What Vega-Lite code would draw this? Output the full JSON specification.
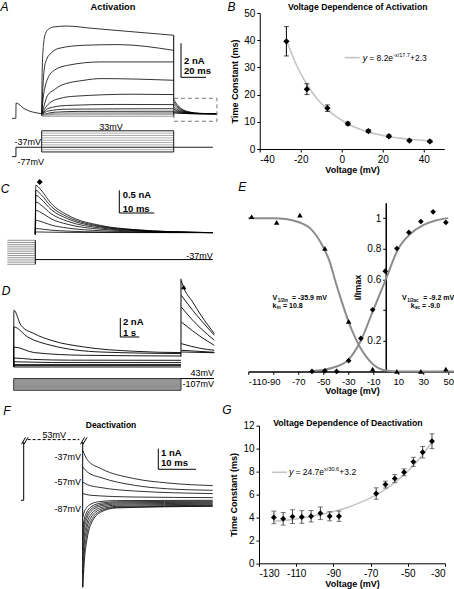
{
"$schema":"https://vega.github.io/schema/vega-lite/v6.json",
"padding":0,
"background":"white",
"config":{"view":{"stroke":null},"font":"Liberation Sans","mark":{"color":"black"},
"axis":{"labelFont":"Liberation Sans","titleFont":"Liberation Sans","labelFontSize":10,"titleFontSize":9,"titleFontWeight":"bold","labelColor":"black","titleColor":"black","domainColor":"black","tickColor":"black","tickSize":3,"grid":false,"labelPadding":2,"labelOverlap":false,"tickCount":20},
"axisX":{"titlePadding":1},
"text":{"font":"Liberation Sans","color":"black"}},
"datasets":{
"aTr":[
{"id":0,"x":-23.8,"y":-0.18},{"id":0,"x":-20.7,"y":-0.18},{"id":0,"x":-20.5,"y":0.72},{"id":0,"x":-18.2,"y":0.65},{"id":0,"x":-15,"y":0.44},{"id":0,"x":-10.2,"y":0.26},{"id":0,"x":-4.6,"y":0.15},{"id":0,"x":0,"y":0.09},
{"id":1,"x":0,"y":0},{"id":1,"x":0.4,"y":2.6},{"id":1,"x":1.5,"y":4.2},{"id":1,"x":3,"y":4.8},{"id":1,"x":6,"y":5.1},{"id":1,"x":10,"y":5.2},{"id":1,"x":20,"y":5.25},{"id":1,"x":40,"y":5.12},{"id":1,"x":70,"y":4.93},{"id":1,"x":105.6,"y":4.71},
{"id":2,"x":0,"y":0},{"id":2,"x":0.8,"y":1.4},{"id":2,"x":2.1,"y":2.76},{"id":2,"x":4,"y":3.3},{"id":2,"x":7.4,"y":3.65},{"id":2,"x":13.8,"y":3.94},{"id":2,"x":33.8,"y":4.12},{"id":2,"x":61,"y":4.16},{"id":2,"x":105.6,"y":3.82},
{"id":3,"x":0,"y":0},{"id":3,"x":1,"y":0.9},{"id":3,"x":2.5,"y":1.6},{"id":3,"x":4.8,"y":2.16},{"id":3,"x":10.1,"y":2.65},{"id":3,"x":20.8,"y":2.94},{"id":3,"x":47.4,"y":3.14},{"id":3,"x":105.6,"y":3.14},
{"id":4,"x":0,"y":0},{"id":4,"x":2,"y":0.6},{"id":4,"x":4.8,"y":1.18},{"id":4,"x":10,"y":1.5},{"id":4,"x":15.4,"y":1.76},{"id":4,"x":33.8,"y":2.06},{"id":4,"x":47.4,"y":2.16},{"id":4,"x":105.6,"y":2.06},
{"id":5,"x":0,"y":0},{"id":5,"x":3,"y":0.45},{"id":5,"x":7.4,"y":0.78},{"id":5,"x":15,"y":1.0},{"id":5,"x":25.8,"y":1.12},{"id":5,"x":73.8,"y":1.24},{"id":5,"x":105.6,"y":1.22},
{"id":6,"x":0,"y":0},{"id":6,"x":5,"y":0.4},{"id":6,"x":20,"y":0.58},{"id":6,"x":60,"y":0.64},{"id":6,"x":105.6,"y":0.63},
{"id":7,"x":0,"y":0},{"id":7,"x":5,"y":0.25},{"id":7,"x":20,"y":0.36},{"id":7,"x":105.6,"y":0.39},
{"id":8,"x":0,"y":0},{"id":8,"x":10,"y":0.18},{"id":8,"x":30,"y":0.23},{"id":8,"x":105.6,"y":0.24},
{"id":9,"x":0,"y":0},{"id":9,"x":15,"y":0.14},{"id":9,"x":105.6,"y":0.16},
{"id":10,"x":0,"y":0},{"id":10,"x":20,"y":0.09},{"id":10,"x":105.6,"y":0.1},
{"id":11,"x":0,"y":0.02},{"id":11,"x":105.6,"y":0.04},
{"id":12,"x":0,"y":-0.06},{"id":12,"x":105.6,"y":-0.06},
{"id":101,"x":105.6,"y":0.94},{"id":101,"x":108,"y":0.66},{"id":101,"x":112,"y":0.38},{"id":101,"x":118,"y":0.2},{"id":101,"x":126,"y":0.12},{"id":101,"x":140.2,"y":0.09},
{"id":102,"x":105.6,"y":0.8},{"id":102,"x":108,"y":0.57},{"id":102,"x":112,"y":0.33},{"id":102,"x":118,"y":0.18},{"id":102,"x":126,"y":0.11},{"id":102,"x":140.2,"y":0.09},
{"id":103,"x":105.6,"y":0.65},{"id":103,"x":108,"y":0.47},{"id":103,"x":112,"y":0.28},{"id":103,"x":118,"y":0.16},{"id":103,"x":126,"y":0.11},{"id":103,"x":140.2,"y":0.09},
{"id":104,"x":105.6,"y":0.5},{"id":104,"x":108,"y":0.36},{"id":104,"x":112,"y":0.23},{"id":104,"x":118,"y":0.14},{"id":104,"x":126,"y":0.1},{"id":104,"x":140.2,"y":0.09},
{"id":105,"x":105.6,"y":0.38},{"id":105,"x":108,"y":0.28},{"id":105,"x":112,"y":0.19},{"id":105,"x":118,"y":0.13},{"id":105,"x":126,"y":0.1},{"id":105,"x":140.2,"y":0.09},
{"id":106,"x":105.6,"y":0.28},{"id":106,"x":108,"y":0.22},{"id":106,"x":112,"y":0.16},{"id":106,"x":118,"y":0.11},{"id":106,"x":126,"y":0.1},{"id":106,"x":140.2,"y":0.09},
{"id":107,"x":105.6,"y":0.2},{"id":107,"x":108,"y":0.16},{"id":107,"x":112,"y":0.13},{"id":107,"x":118,"y":0.1},{"id":107,"x":126,"y":0.09},{"id":107,"x":140.2,"y":0.09},
{"id":108,"x":105.6,"y":0.14},{"id":108,"x":108,"y":0.12},{"id":108,"x":112,"y":0.11},{"id":108,"x":118,"y":0.1},{"id":108,"x":126,"y":0.09},{"id":108,"x":140.2,"y":0.09}],
"aSeg":[{"x":111.44,"y":2.235,"x2":111.44,"y2":4.235},{"x":111.44,"y":2.235,"x2":131.44,"y2":2.235},{"x":105.6,"y":4.71,"x2":105.6,"y2":-0.06}],
"aBox":[{"x":105.8,"x2":140.2,"y":1.0,"y2":-0.35}],
"aTxt":[{"x":-29.76,"y":6.38,"txt":"A","k":"L"},{"x":57.04,"y":6.38,"txt":"Activation","k":"T"},{"x":113.84,"y":3.2,"txt":"2 nA","k":"S"},{"x":113.84,"y":2.58,"txt":"20 ms","k":"S"}],
"apSeg":[{"x":0,"y":33,"x2":105.6,"y2":33,"k":"o"},{"x":0,"y":-57,"x2":105.6,"y2":-57,"k":"o"},{"x":0,"y":-57,"x2":0,"y2":33,"k":"o"},{"x":105.6,"y":-57,"x2":105.6,"y2":33,"k":"o"},
{"x":-20.6,"y":-37,"x2":137,"y2":-37,"k":"o"},{"x":-23.8,"y":-77,"x2":-20.6,"y2":-77,"k":"o"},{"x":-20.6,"y":-77,"x2":-20.6,"y2":-37,"k":"o"},
{"x":0,"y":23,"x2":105.6,"y2":23,"k":"i"},{"x":0,"y":13,"x2":105.6,"y2":13,"k":"i"},{"x":0,"y":3,"x2":105.6,"y2":3,"k":"i"},{"x":0,"y":-7,"x2":105.6,"y2":-7,"k":"i"},{"x":0,"y":-17,"x2":105.6,"y2":-17,"k":"i"},{"x":0,"y":-27,"x2":105.6,"y2":-27,"k":"i"},{"x":0,"y":-47,"x2":105.6,"y2":-47,"k":"i"}],
"apTxt":[{"x":55.4,"y":49.2,"txt":"33mV","a":"c"},{"x":-0.56,"y":-14.7,"txt":"-37mV","a":"r"},{"x":-19.4,"y":-99.8,"txt":"-77mV","a":"l"}],
"cTr":[
{"id":1,"x":0,"y":0},{"id":1,"x":0.14,"y":1.079},{"id":1,"x":1.63,"y":0.975},{"id":1,"x":4.49,"y":0.683},{"id":1,"x":9.26,"y":0.423},{"id":1,"x":18.77,"y":0.193},{"id":1,"x":28.2,"y":0.105},{"id":1,"x":38.8,"y":0.058},{"id":1,"x":50.7,"y":0.037},
{"id":2,"x":0,"y":0},{"id":2,"x":0.14,"y":0.969},{"id":2,"x":1.63,"y":0.876},{"id":2,"x":4.49,"y":0.615},{"id":2,"x":9.26,"y":0.382},{"id":2,"x":18.77,"y":0.177},{"id":2,"x":28.2,"y":0.098},{"id":2,"x":38.8,"y":0.056},{"id":2,"x":50.7,"y":0.037},
{"id":3,"x":0,"y":0},{"id":3,"x":0.14,"y":0.859},{"id":3,"x":1.63,"y":0.777},{"id":3,"x":4.49,"y":0.547},{"id":3,"x":9.26,"y":0.341},{"id":3,"x":18.77,"y":0.16},{"id":3,"x":28.2,"y":0.09},{"id":3,"x":38.8,"y":0.053},{"id":3,"x":50.7,"y":0.037},
{"id":4,"x":0,"y":0},{"id":4,"x":0.14,"y":0.711},{"id":4,"x":1.63,"y":0.644},{"id":4,"x":4.49,"y":0.455},{"id":4,"x":9.26,"y":0.286},{"id":4,"x":18.77,"y":0.138},{"id":4,"x":28.2,"y":0.081},{"id":4,"x":38.8,"y":0.05},{"id":4,"x":50.7,"y":0.037},
{"id":5,"x":0,"y":0},{"id":5,"x":0.14,"y":0.529},{"id":5,"x":1.63,"y":0.48},{"id":5,"x":4.49,"y":0.342},{"id":5,"x":9.26,"y":0.219},{"id":5,"x":18.77,"y":0.111},{"id":5,"x":28.2,"y":0.069},{"id":5,"x":38.8,"y":0.047},{"id":5,"x":50.7,"y":0.037},
{"id":6,"x":0,"y":0},{"id":6,"x":0.14,"y":0.308},{"id":6,"x":1.63,"y":0.281},{"id":6,"x":4.49,"y":0.205},{"id":6,"x":9.26,"y":0.137},{"id":6,"x":18.77,"y":0.078},{"id":6,"x":28.2,"y":0.055},{"id":6,"x":38.8,"y":0.042},{"id":6,"x":50.7,"y":0.037},
{"id":7,"x":0,"y":0},{"id":7,"x":0.14,"y":0.126},{"id":7,"x":1.63,"y":0.117},{"id":7,"x":4.49,"y":0.092},{"id":7,"x":9.26,"y":0.07},{"id":7,"x":18.77,"y":0.05},{"id":7,"x":28.2,"y":0.043},{"id":7,"x":38.8,"y":0.039},{"id":7,"x":50.7,"y":0.037},
{"id":8,"x":0,"y":0},{"id":8,"x":0.14,"y":0.051},{"id":8,"x":1.63,"y":0.05},{"id":8,"x":4.49,"y":0.046},{"id":8,"x":9.26,"y":0.042},{"id":8,"x":18.77,"y":0.039},{"id":8,"x":28.2,"y":0.038},{"id":8,"x":38.8,"y":0.037},{"id":8,"x":50.7,"y":0.037}],
"cSeg":[{"x":24.0,"y":0.969,"x2":24.0,"y2":0.469,"k":"b"},{"x":24.0,"y":0.469,"x2":34.0,"y2":0.469,"k":"b"},{"x":0,"y":-0.557,"x2":50.7,"y2":-0.557,"k":"b"},{"x":0,"y":-0.132,"x2":0,"y2":-0.661,"k":"b"},
{"x":-8.0,"y":-0.132,"x2":0,"y2":-0.132,"k":"g"},{"x":-8.0,"y":-0.18,"x2":0,"y2":-0.18,"k":"g"},{"x":-8.0,"y":-0.228,"x2":0,"y2":-0.228,"k":"g"},{"x":-8.0,"y":-0.276,"x2":0,"y2":-0.276,"k":"g"},{"x":-8.0,"y":-0.324,"x2":0,"y2":-0.324,"k":"g"},{"x":-8.0,"y":-0.372,"x2":0,"y2":-0.372,"k":"g"},{"x":-8.0,"y":-0.421,"x2":0,"y2":-0.421,"k":"g"},{"x":-8.0,"y":-0.469,"x2":0,"y2":-0.469,"k":"g"},{"x":-8.0,"y":-0.517,"x2":0,"y2":-0.517,"k":"g"},{"x":-8.0,"y":-0.565,"x2":0,"y2":-0.565,"k":"g"},{"x":-8.0,"y":-0.613,"x2":0,"y2":-0.613,"k":"g"},{"x":-8.0,"y":-0.661,"x2":0,"y2":-0.661,"k":"g"}],
"cTxt":[{"x":-8.66,"y":0.991,"txt":"C","k":"L"},{"x":24.97,"y":0.865,"txt":"0.5 nA","k":"S"},{"x":24.97,"y":0.56,"txt":"10 ms","k":"S"},{"x":50.7,"y":-0.478,"txt":"-37mV","k":"R"}],
"cPt":[{"x":1.26,"y":1.152}],
"dTr":[
{"id":1,"x":0,"y":0},{"id":1,"x":0.01,"y":5.968},{"id":1,"x":0.384,"y":4.389},{"id":1,"x":1.084,"y":3.505},{"id":1,"x":1.963,"y":2.811},{"id":1,"x":3.716,"y":2.105},{"id":1,"x":6.347,"y":1.653},{"id":1,"x":8.805,"y":1.516},
{"id":2,"x":0,"y":0},{"id":2,"x":0.01,"y":4.211},{"id":2,"x":0.737,"y":3.158},{"id":2,"x":1.963,"y":2.284},{"id":2,"x":4.595,"y":1.579},{"id":2,"x":8.805,"y":1.411},
{"id":3,"x":0,"y":0},{"id":3,"x":0.01,"y":2.105},{"id":3,"x":1.084,"y":1.516},{"id":3,"x":3.716,"y":1.232},{"id":3,"x":8.805,"y":1.158},
{"id":4,"x":0,"y":0},{"id":4,"x":0.01,"y":0.95},{"id":4,"x":1.0,"y":0.8},{"id":4,"x":3.0,"y":0.72},{"id":4,"x":8.805,"y":0.705},
{"id":5,"x":0,"y":0},{"id":5,"x":0.01,"y":0.55},{"id":5,"x":2.0,"y":0.47},{"id":5,"x":8.805,"y":0.463},
{"id":6,"x":0,"y":0.253},{"id":6,"x":8.805,"y":0.253},
{"id":7,"x":0,"y":0.147},{"id":7,"x":8.805,"y":0.147},
{"id":8,"x":0,"y":0},{"id":8,"x":8.805,"y":0},
{"id":11,"x":8.82,"y":9.1},{"id":11,"x":8.9,"y":8.6},{"id":11,"x":9.42,"y":6.84},{"id":11,"x":9.86,"y":5.44},{"id":11,"x":10.56,"y":3.52},
{"id":12,"x":8.82,"y":7.55},{"id":12,"x":9.42,"y":5.97},{"id":12,"x":9.86,"y":4.92},{"id":12,"x":10.56,"y":3.34},
{"id":13,"x":8.82,"y":6.32},{"id":13,"x":9.42,"y":4.92},{"id":13,"x":9.86,"y":4.04},{"id":13,"x":10.56,"y":2.81},
{"id":14,"x":8.82,"y":4.74},{"id":14,"x":9.42,"y":3.8},{"id":14,"x":9.86,"y":3.16},{"id":14,"x":10.56,"y":2.28},
{"id":15,"x":8.82,"y":2.46},{"id":15,"x":9.86,"y":1.95},{"id":15,"x":10.56,"y":1.76},
{"id":16,"x":8.82,"y":1.76},{"id":16,"x":10.56,"y":1.55},
{"id":17,"x":8.82,"y":1.58},{"id":17,"x":10.56,"y":1.5}],
"dSeg":[{"x":8.805,"y":1.1,"x2":8.805,"y2":9.3,"k":"b"},{"x":5.611,"y":3.158,"x2":5.611,"y2":5.158,"k":"b"},{"x":5.611,"y":3.158,"x2":6.611,"y2":3.158,"k":"b"},{"x":8.805,"y":-1.22,"x2":10.542,"y2":-1.22,"k":"b"},
{"x":0,"y":-1.34,"x2":8.805,"y2":-1.34,"k":"g"},{"x":0,"y":-1.46,"x2":8.805,"y2":-1.46,"k":"g"},{"x":0,"y":-1.58,"x2":8.805,"y2":-1.58,"k":"g"},{"x":0,"y":-1.7,"x2":8.805,"y2":-1.7,"k":"g"},{"x":0,"y":-1.82,"x2":8.805,"y2":-1.82,"k":"g"},{"x":0,"y":-1.94,"x2":8.805,"y2":-1.94,"k":"g"},{"x":0,"y":-2.06,"x2":8.805,"y2":-2.06,"k":"g"},{"x":0,"y":-2.18,"x2":8.805,"y2":-2.18,"k":"g"},{"x":0,"y":-2.3,"x2":8.805,"y2":-2.3,"k":"g"}],
"dRect":[{"x":0,"x2":8.805,"y":-1.22,"y2":-2.45}],
"dTxt":[{"x":-0.405,"y":7.97,"txt":"D","k":"L"},{"x":5.75,"y":4.72,"txt":"2 nA","k":"S"},{"x":5.75,"y":3.6,"txt":"1 s","k":"S"},{"x":10.542,"y":-0.67,"txt":"43mV","k":"R"},{"x":10.542,"y":-1.84,"txt":"-107mV","k":"R"}],
"dPt":[{"x":8.947,"y":8.42}],
"fTr":[
{"id":1,"x":0,"y":2.415},{"id":1,"x":1.326,"y":1.932},{"id":1,"x":4.854,"y":1.531},{"id":1,"x":13.69,"y":1.048},{"id":1,"x":22.55,"y":0.836},{"id":1,"x":34.48,"y":0.71},
{"id":2,"x":0,"y":1.609},{"id":2,"x":1.326,"y":1.353},{"id":2,"x":4.854,"y":1.097},{"id":2,"x":13.69,"y":0.725},{"id":2,"x":22.55,"y":0.556},{"id":2,"x":34.48,"y":0.483},
{"id":3,"x":0,"y":0.884},{"id":3,"x":1.326,"y":0.749},{"id":3,"x":4.854,"y":0.614},{"id":3,"x":13.69,"y":0.449},{"id":3,"x":34.48,"y":0.324},
{"id":4,"x":0,"y":0.324},{"id":4,"x":2.2,"y":0.242},{"id":4,"x":13.69,"y":0.159},{"id":4,"x":34.48,"y":0.13},
{"id":5,"x":0.05,"y":-0.807},{"id":5,"x":0.4,"y":-0.565},{"id":5,"x":1,"y":-0.363},{"id":5,"x":2.2,"y":-0.178},{"id":5,"x":4.85,"y":-0.056},{"id":5,"x":9,"y":-0.016},{"id":5,"x":34.48,"y":0},
{"id":6,"x":0.05,"y":-1.29},{"id":6,"x":0.4,"y":-0.917},{"id":6,"x":1,"y":-0.607},{"id":6,"x":2.2,"y":-0.321},{"id":6,"x":4.85,"y":-0.135},{"id":6,"x":9,"y":-0.073},{"id":6,"x":34.48,"y":-0.048},
{"id":7,"x":0.05,"y":-1.609},{"id":7,"x":0.4,"y":-1.155},{"id":7,"x":1,"y":-0.777},{"id":7,"x":2.2,"y":-0.43},{"id":7,"x":4.85,"y":-0.203},{"id":7,"x":9,"y":-0.127},{"id":7,"x":34.48,"y":-0.097},
{"id":8,"x":0.05,"y":-1.932},{"id":8,"x":0.4,"y":-1.396},{"id":8,"x":1,"y":-0.949},{"id":8,"x":2.2,"y":-0.538},{"id":8,"x":4.85,"y":-0.27},{"id":8,"x":9,"y":-0.181},{"id":8,"x":34.48,"y":-0.145},
{"id":9,"x":0.05,"y":-2.415},{"id":9,"x":0.4,"y":-1.748},{"id":9,"x":1,"y":-1.193},{"id":9,"x":2.2,"y":-0.682},{"id":9,"x":4.85,"y":-0.349},{"id":9,"x":9,"y":-0.237},{"id":9,"x":34.48,"y":-0.193},
{"id":10,"x":0.05,"y":-2.899},{"id":10,"x":0.4,"y":-2.102},{"id":10,"x":1,"y":-1.438},{"id":10,"x":2.2,"y":-0.827},{"id":10,"x":4.85,"y":-0.428},{"id":10,"x":9,"y":-0.295},{"id":10,"x":34.48,"y":-0.242},
{"id":11,"x":0.05,"y":-3.541},{"id":11,"x":0.4,"y":-2.561},{"id":11,"x":1,"y":-1.745},{"id":11,"x":2.2,"y":-0.994},{"id":11,"x":4.85,"y":-0.504},{"id":11,"x":9,"y":-0.34},{"id":11,"x":34.48,"y":-0.275},
{"id":12,"x":0.05,"y":-4.203},{"id":12,"x":0.4,"y":-3.029},{"id":12,"x":1,"y":-2.051},{"id":12,"x":2.2,"y":-1.151},{"id":12,"x":4.85,"y":-0.564},{"id":12,"x":9,"y":-0.368},{"id":12,"x":34.48,"y":-0.29}],
"fSeg":[{"x":0,"y":2.816,"x2":0,"y2":-4.203},{"x":-15.65,"y":0,"x2":-15.65,"y2":2.816},{"x":-16.37,"y":0,"x2":-15.65,"y2":0},{"x":20.05,"y":1.498,"x2":20.05,"y2":2.498},{"x":20.05,"y":1.498,"x2":30.05,"y2":1.498},
{"x":-16.23,"y":2.705,"x2":-15.17,"y2":3.043},{"x":-15.57,"y":2.705,"x2":-14.51,"y2":3.043},{"x":-0.58,"y":2.705,"x2":0.48,"y2":3.043},{"x":0.08,"y":2.705,"x2":1.14,"y2":3.043}],
"fDash":[{"x":-14.6,"y":2.932,"x2":-0.9,"y2":2.932}],
"fTxt":[{"x":-20.08,"y":4.3,"txt":"F","k":"L"},{"x":7.51,"y":3.623,"txt":"Deactivation","k":"T"},{"x":-7.53,"y":3.17,"txt":"53mV","k":"C"},{"x":-0.45,"y":2.092,"txt":"-37mV","k":"R"},{"x":-0.45,"y":0.884,"txt":"-57mV","k":"R"},{"x":-0.45,"y":-0.401,"txt":"-87mV","k":"R"},{"x":20.77,"y":2.304,"txt":"1 nA","k":"S"},{"x":20.77,"y":1.821,"txt":"10 ms","k":"S"}],
"bPts":[{"v":-27,"tau":39.6,"lo":34.2,"hi":45.0},{"v":-17,"tau":22.0,"lo":20.0,"hi":24.0},{"v":-7,"tau":15.0,"lo":13.8,"hi":16.2},{"v":3,"tau":9.3,"lo":8.7,"hi":9.9},{"v":13,"tau":6.6,"lo":6.1,"hi":7.1},{"v":23,"tau":4.7,"lo":4.2,"hi":5.2},{"v":33,"tau":3.1,"lo":2.7,"hi":3.5},{"v":43,"tau":2.8,"lo":2.4,"hi":3.2}],
"bFit":[{"v":-27,"tau":40.0},{"v":-22,"tau":30.7},{"v":-17,"tau":23.7},{"v":-12,"tau":18.5},{"v":-7,"tau":14.5},{"v":-2,"tau":11.5},{"v":3,"tau":9.2},{"v":8,"tau":7.5},{"v":13,"tau":6.2},{"v":18,"tau":5.3},{"v":23,"tau":4.5},{"v":28,"tau":4.0},{"v":33,"tau":3.6},{"v":38,"tau":3.3},{"v":43,"tau":3.0}],
"bLeg":[{"v":1.46,"v2":8.78,"tau":33.6}],
"bTxt":[{"v":10.24,"tau":33.6,"txt":"y","k":"I"},{"v":13.4,"tau":33.6,"txt":"= 8.2e","k":"N"},{"v":25.1,"tau":34.7,"txt":"-x/17.7","k":"S"},{"v":33.3,"tau":33.6,"txt":"+2.3","k":"N"},{"v":-53.8,"tau":52.28,"txt":"B","k":"L"},{"v":7.8,"tau":52.1,"txt":"Voltage Dependence of Activation","k":"T"}],
"ePts":[{"v":-107.3,"r":1.009,"k":"in"},{"v":-87.3,"r":0.972,"k":"in"},{"v":-68.7,"r":1.02,"k":"in"},{"v":-48.7,"r":0.802,"k":"in"},{"v":-29.7,"r":0.326,"k":"in"},{"v":-10.5,"r":0.015,"k":"in"},{"v":8.9,"r":0,"k":"in"},{"v":28.1,"r":0,"k":"in"},{"v":48.1,"r":0.015,"k":"in"},
{"v":-59,"r":0,"k":"ac"},{"v":-48.7,"r":0.004,"k":"ac"},{"v":-39.3,"r":0,"k":"ac"},{"v":-29.7,"r":0.07,"k":"ac"},{"v":-19.9,"r":0.215,"k":"ac"},{"v":-10.5,"r":0.402,"k":"ac"},{"v":-0.4,"r":0.654,"k":"ac"},{"v":8.9,"r":0.802,"k":"ac"},{"v":18.5,"r":0.907,"k":"ac"},{"v":28.1,"r":0.978,"k":"ac"},{"v":37.9,"r":1.041,"k":"ac"},{"v":48.1,"r":0.972,"k":"ac"}],
"eFit":[{"v":-110,"r":1.0,"k":"in"},{"v":-90,"r":1.0,"k":"in"},{"v":-80,"r":0.995,"k":"in"},{"v":-70,"r":0.975,"k":"in"},{"v":-60,"r":0.93,"k":"in"},{"v":-55,"r":0.88,"k":"in"},{"v":-50,"r":0.81,"k":"in"},{"v":-45,"r":0.72,"k":"in"},{"v":-40,"r":0.58,"k":"in"},{"v":-35,"r":0.45,"k":"in"},{"v":-30,"r":0.33,"k":"in"},{"v":-25,"r":0.23,"k":"in"},{"v":-20,"r":0.15,"k":"in"},{"v":-15,"r":0.09,"k":"in"},{"v":-10,"r":0.045,"k":"in"},{"v":-5,"r":0.018,"k":"in"},{"v":0,"r":0.006,"k":"in"},{"v":10,"r":0,"k":"in"},{"v":30,"r":0,"k":"in"},{"v":56,"r":0,"k":"in"},
{"v":-60,"r":0.003,"k":"ac"},{"v":-50,"r":0.01,"k":"ac"},{"v":-40,"r":0.03,"k":"ac"},{"v":-30,"r":0.075,"k":"ac"},{"v":-20,"r":0.2,"k":"ac"},{"v":-10,"r":0.4,"k":"ac"},{"v":0,"r":0.6,"k":"ac"},{"v":10,"r":0.8,"k":"ac"},{"v":20,"r":0.9,"k":"ac"},{"v":30,"r":0.955,"k":"ac"},{"v":40,"r":0.985,"k":"ac"},{"v":50,"r":1.0,"k":"ac"}],
"eTxt":[{"v":-90.6,"r":0.476,"txt":"V","k":"M"},{"v":-86.5,"r":0.461,"txt":"1/2in","k":"S"},{"v":-75.0,"r":0.476,"txt":"= -35.9 mV","k":"M"},
{"v":-90.6,"r":0.428,"txt":"k","k":"M"},{"v":-87.3,"r":0.413,"txt":"in","k":"S"},{"v":-82.2,"r":0.428,"txt":"= 10.8","k":"M"},
{"v":13.0,"r":0.476,"txt":"V","k":"M"},{"v":17.1,"r":0.461,"txt":"1/2ac","k":"S"},{"v":30.0,"r":0.476,"txt":"= -9.2 mV","k":"M"},
{"v":20.0,"r":0.428,"txt":"k","k":"M"},{"v":23.3,"r":0.413,"txt":"ac","k":"S"},{"v":29.0,"r":0.428,"txt":"= -9.0","k":"M"},
{"v":-114.8,"r":1.2,"txt":"E","k":"L"}],
"gPts":[{"v":-122,"tau":4.0,"lo":3.45,"hi":4.55},{"v":-117,"tau":3.88,"lo":3.33,"hi":4.43},{"v":-112,"tau":4.07,"lo":3.47,"hi":4.67},{"v":-107,"tau":4.04,"lo":3.49,"hi":4.59},{"v":-102,"tau":4.1,"lo":3.6,"hi":4.6},{"v":-97,"tau":4.36,"lo":3.81,"hi":4.91},{"v":-92,"tau":4.1,"lo":3.7,"hi":4.5},{"v":-87,"tau":4.1,"lo":3.65,"hi":4.55},{"v":-67,"tau":6.08,"lo":5.58,"hi":6.58},{"v":-62,"tau":6.86,"lo":6.56,"hi":7.16},{"v":-57,"tau":7.38,"lo":7.03,"hi":7.73},{"v":-52,"tau":7.93,"lo":7.63,"hi":8.23},{"v":-47,"tau":8.84,"lo":8.44,"hi":9.24},{"v":-42,"tau":9.68,"lo":9.18,"hi":10.18},{"v":-37,"tau":10.64,"lo":9.99,"hi":11.29}],
"gFit":[{"v":-122,"tau":3.66},{"v":-117,"tau":3.74},{"v":-112,"tau":3.83},{"v":-107,"tau":3.95},{"v":-102,"tau":4.08},{"v":-97,"tau":4.24},{"v":-92,"tau":4.42},{"v":-87,"tau":4.64},{"v":-82,"tau":4.89},{"v":-77,"tau":5.2},{"v":-72,"tau":5.55},{"v":-67,"tau":5.97},{"v":-62,"tau":6.46},{"v":-57,"tau":7.03},{"v":-52,"tau":7.72},{"v":-47,"tau":8.52},{"v":-42,"tau":9.46},{"v":-37,"tau":10.57}],
"gLeg":[{"v":-123,"v2":-114.95,"tau":7.93}],
"gTxt":[{"v":-113.9,"tau":7.93,"txt":"y","k":"I"},{"v":-110.4,"tau":7.93,"txt":"= 24.7e","k":"N"},{"v":-95.0,"tau":8.19,"txt":"x/30.6","k":"S"},{"v":-86.8,"tau":7.93,"txt":"+3.2","k":"N"},{"v":-147.2,"tau":13.37,"txt":"G","k":"L"},{"v":-82.2,"tau":12.2,"txt":"Voltage Dependence of Deactivation","k":"T"}]
},
"hconcat":[
{"width":219,"height":576.3,
"resolve":{"scale":{"x":"independent","y":"independent"}},
"layer":[
{"layer":[
{"data":{"name":"aTr"},"transform":[{"filter":"datum.id < 9 || datum.id > 100"}],"mark":{"type":"line","interpolate":"monotone","strokeWidth":0.8,"color":"black"},
"encoding":{"x":{"field":"x","type":"quantitative","scale":{"domain":[-32.56,142.64],"nice":false,"zero":false},"axis":null},"y":{"field":"y","type":"quantitative","scale":{"domain":[-27.88,6.018],"nice":false,"zero":false},"axis":null},"detail":{"field":"id","type":"nominal"}}},
{"data":{"name":"aTr"},"transform":[{"filter":"datum.id >= 9 && datum.id < 100"}],"mark":{"type":"line","interpolate":"monotone","strokeWidth":0.8,"color":"#8a8a8a"},
"encoding":{"x":{"field":"x","type":"quantitative"},"y":{"field":"y","type":"quantitative"},"detail":{"field":"id","type":"nominal"}}},
{"data":{"name":"aSeg"},"mark":{"type":"rule","strokeWidth":1,"color":"black"},"encoding":{"x":{"field":"x","type":"quantitative"},"y":{"field":"y","type":"quantitative"},"x2":{"field":"x2"},"y2":{"field":"y2"}}},
{"data":{"name":"aBox"},"mark":{"type":"rect","fillOpacity":0,"stroke":"#777777","strokeWidth":1,"strokeDash":[4,3]},"encoding":{"x":{"field":"x","type":"quantitative"},"x2":{"field":"x2"},"y":{"field":"y","type":"quantitative"},"y2":{"field":"y2"}}},
{"data":{"name":"aTxt"},"transform":[{"filter":"datum.k == 'L'"}],"mark":{"type":"text","fontSize":12,"fontStyle":"italic","align":"center","baseline":"middle","color":"black"},"encoding":{"x":{"field":"x","type":"quantitative"},"y":{"field":"y","type":"quantitative"},"text":{"field":"txt"}}},
{"data":{"name":"aTxt"},"transform":[{"filter":"datum.k == 'T'"}],"mark":{"type":"text","fontSize":9.3,"fontWeight":"bold","align":"center","baseline":"middle","color":"black"},"encoding":{"x":{"field":"x","type":"quantitative"},"y":{"field":"y","type":"quantitative"},"text":{"field":"txt"}}},
{"data":{"name":"aTxt"},"transform":[{"filter":"datum.k == 'S'"}],"mark":{"type":"text","fontSize":9.5,"fontWeight":"bold","align":"left","baseline":"middle","color":"black"},"encoding":{"x":{"field":"x","type":"quantitative"},"y":{"field":"y","type":"quantitative"},"text":{"field":"txt"}}}
]},
{"layer":[
{"data":{"name":"apSeg"},"transform":[{"filter":"datum.k == 'i'"}],"mark":{"type":"rule","strokeWidth":0.7,"color":"#8a8a8a"},"encoding":{"x":{"field":"x","type":"quantitative","scale":{"domain":[-32.56,142.64],"nice":false,"zero":false},"axis":null},"y":{"field":"y","type":"quantitative","scale":{"domain":[-1918.1,534.3],"nice":false,"zero":false},"axis":null},"x2":{"field":"x2"},"y2":{"field":"y2"}}},
{"data":{"name":"apSeg"},"transform":[{"filter":"datum.k == 'o'"}],"mark":{"type":"rule","strokeWidth":0.9,"color":"black"},"encoding":{"x":{"field":"x","type":"quantitative"},"y":{"field":"y","type":"quantitative"},"x2":{"field":"x2"},"y2":{"field":"y2"}}},
{"data":{"name":"apTxt"},"transform":[{"filter":"datum.a == 'c'"}],"mark":{"type":"text","fontSize":9,"align":"center","baseline":"middle","color":"black"},"encoding":{"x":{"field":"x","type":"quantitative"},"y":{"field":"y","type":"quantitative"},"text":{"field":"txt"}}},
{"data":{"name":"apTxt"},"transform":[{"filter":"datum.a == 'r'"}],"mark":{"type":"text","fontSize":9,"align":"right","baseline":"middle","color":"black"},"encoding":{"x":{"field":"x","type":"quantitative"},"y":{"field":"y","type":"quantitative"},"text":{"field":"txt"}}},
{"data":{"name":"apTxt"},"transform":[{"filter":"datum.a == 'l'"}],"mark":{"type":"text","fontSize":9,"align":"left","baseline":"middle","color":"black"},"encoding":{"x":{"field":"x","type":"quantitative"},"y":{"field":"y","type":"quantitative"},"text":{"field":"txt"}}}
]},
{"layer":[
{"data":{"name":"cSeg"},"transform":[{"filter":"datum.k == 'g'"}],"mark":{"type":"rule","strokeWidth":0.8,"color":"#777777"},"encoding":{"x":{"field":"x","type":"quantitative","scale":{"domain":[-9.8,52.77],"nice":false,"zero":false},"axis":null},"y":{"field":"y","type":"quantitative","scale":{"domain":[-7.819,4.874],"nice":false,"zero":false},"axis":null},"x2":{"field":"x2"},"y2":{"field":"y2"}}},
{"data":{"name":"cSeg"},"transform":[{"filter":"datum.k == 'b'"}],"mark":{"type":"rule","strokeWidth":1,"color":"black"},"encoding":{"x":{"field":"x","type":"quantitative"},"y":{"field":"y","type":"quantitative"},"x2":{"field":"x2"},"y2":{"field":"y2"}}},
{"data":{"name":"cTr"},"mark":{"type":"line","interpolate":"monotone","strokeWidth":0.8,"color":"black"},"encoding":{"x":{"field":"x","type":"quantitative"},"y":{"field":"y","type":"quantitative"},"detail":{"field":"id","type":"nominal"}}},
{"data":{"name":"cPt"},"mark":{"type":"point","shape":"diamond","filled":true,"size":35,"color":"black","opacity":1},"encoding":{"x":{"field":"x","type":"quantitative"},"y":{"field":"y","type":"quantitative"}}},
{"data":{"name":"cTxt"},"transform":[{"filter":"datum.k == 'L'"}],"mark":{"type":"text","fontSize":12,"fontStyle":"italic","align":"center","baseline":"middle","color":"black"},"encoding":{"x":{"field":"x","type":"quantitative"},"y":{"field":"y","type":"quantitative"},"text":{"field":"txt"}}},
{"data":{"name":"cTxt"},"transform":[{"filter":"datum.k == 'S'"}],"mark":{"type":"text","fontSize":9.5,"fontWeight":"bold","align":"left","baseline":"middle","color":"black"},"encoding":{"x":{"field":"x","type":"quantitative"},"y":{"field":"y","type":"quantitative"},"text":{"field":"txt"}}},
{"data":{"name":"cTxt"},"transform":[{"filter":"datum.k == 'R'"}],"mark":{"type":"text","fontSize":9,"align":"right","baseline":"middle","color":"black"},"encoding":{"x":{"field":"x","type":"quantitative"},"y":{"field":"y","type":"quantitative"},"text":{"field":"txt"}}}
]},
{"layer":[
{"data":{"name":"dRect"},"mark":{"type":"rect","color":"#b5b5b5","stroke":"black","strokeWidth":0.8},"encoding":{"x":{"field":"x","type":"quantitative","scale":{"domain":[-0.668,10.858],"nice":false,"zero":false},"axis":null},"x2":{"field":"x2"},"y":{"field":"y","type":"quantitative","scale":{"domain":[-23.4,37.263],"nice":false,"zero":false},"axis":null},"y2":{"field":"y2"}}},
{"data":{"name":"dSeg"},"transform":[{"filter":"datum.k == 'g'"}],"mark":{"type":"rule","strokeWidth":0.5,"color":"#666666"},"encoding":{"x":{"field":"x","type":"quantitative"},"y":{"field":"y","type":"quantitative"},"x2":{"field":"x2"},"y2":{"field":"y2"}}},
{"data":{"name":"dSeg"},"transform":[{"filter":"datum.k == 'b'"}],"mark":{"type":"rule","strokeWidth":1,"color":"black"},"encoding":{"x":{"field":"x","type":"quantitative"},"y":{"field":"y","type":"quantitative"},"x2":{"field":"x2"},"y2":{"field":"y2"}}},
{"data":{"name":"dTr"},"mark":{"type":"line","interpolate":"monotone","strokeWidth":0.9,"color":"black"},"encoding":{"x":{"field":"x","type":"quantitative"},"y":{"field":"y","type":"quantitative"},"detail":{"field":"id","type":"nominal"}}},
{"data":{"name":"dPt"},"mark":{"type":"point","shape":"triangle-up","filled":true,"size":28,"color":"black","opacity":1},"encoding":{"x":{"field":"x","type":"quantitative"},"y":{"field":"y","type":"quantitative"}}},
{"data":{"name":"dTxt"},"transform":[{"filter":"datum.k == 'L'"}],"mark":{"type":"text","fontSize":12,"fontStyle":"italic","align":"center","baseline":"middle","color":"black"},"encoding":{"x":{"field":"x","type":"quantitative"},"y":{"field":"y","type":"quantitative"},"text":{"field":"txt"}}},
{"data":{"name":"dTxt"},"transform":[{"filter":"datum.k == 'S'"}],"mark":{"type":"text","fontSize":9.5,"fontWeight":"bold","align":"left","baseline":"middle","color":"black"},"encoding":{"x":{"field":"x","type":"quantitative"},"y":{"field":"y","type":"quantitative"},"text":{"field":"txt"}}},
{"data":{"name":"dTxt"},"transform":[{"filter":"datum.k == 'R'"}],"mark":{"type":"text","fontSize":9,"align":"right","baseline":"middle","color":"black"},"encoding":{"x":{"field":"x","type":"quantitative"},"y":{"field":"y","type":"quantitative"},"text":{"field":"txt"}}}
]},
{"layer":[
{"data":{"name":"fTr"},"mark":{"type":"line","interpolate":"monotone","strokeWidth":0.8,"color":"black"},"encoding":{"x":{"field":"x","type":"quantitative","scale":{"domain":[-21.67,36.42],"nice":false,"zero":false},"axis":null},"y":{"field":"y","type":"quantitative","scale":{"domain":[-4.3,23.541],"nice":false,"zero":false},"axis":null},"detail":{"field":"id","type":"nominal"}}},
{"data":{"name":"fSeg"},"mark":{"type":"rule","strokeWidth":1,"color":"black"},"encoding":{"x":{"field":"x","type":"quantitative"},"y":{"field":"y","type":"quantitative"},"x2":{"field":"x2"},"y2":{"field":"y2"}}},
{"data":{"name":"fDash"},"mark":{"type":"rule","strokeWidth":1,"color":"black","strokeDash":[3,2]},"encoding":{"x":{"field":"x","type":"quantitative"},"y":{"field":"y","type":"quantitative"},"x2":{"field":"x2"},"y2":{"field":"y2"}}},
{"data":{"name":"fTxt"},"transform":[{"filter":"datum.k == 'L'"}],"mark":{"type":"text","fontSize":12,"fontStyle":"italic","align":"center","baseline":"middle","color":"black"},"encoding":{"x":{"field":"x","type":"quantitative"},"y":{"field":"y","type":"quantitative"},"text":{"field":"txt"}}},
{"data":{"name":"fTxt"},"transform":[{"filter":"datum.k == 'T'"}],"mark":{"type":"text","fontSize":8.5,"fontWeight":"bold","align":"center","baseline":"middle","color":"black"},"encoding":{"x":{"field":"x","type":"quantitative"},"y":{"field":"y","type":"quantitative"},"text":{"field":"txt"}}},
{"data":{"name":"fTxt"},"transform":[{"filter":"datum.k == 'C'"}],"mark":{"type":"text","fontSize":9,"align":"center","baseline":"middle","color":"black"},"encoding":{"x":{"field":"x","type":"quantitative"},"y":{"field":"y","type":"quantitative"},"text":{"field":"txt"}}},
{"data":{"name":"fTxt"},"transform":[{"filter":"datum.k == 'R'"}],"mark":{"type":"text","fontSize":9,"align":"right","baseline":"middle","color":"black"},"encoding":{"x":{"field":"x","type":"quantitative"},"y":{"field":"y","type":"quantitative"},"text":{"field":"txt"}}},
{"data":{"name":"fTxt"},"transform":[{"filter":"datum.k == 'S'"}],"mark":{"type":"text","fontSize":9.5,"fontWeight":"bold","align":"left","baseline":"middle","color":"black"},"encoding":{"x":{"field":"x","type":"quantitative"},"y":{"field":"y","type":"quantitative"},"text":{"field":"txt"}}}
]}
]},
{"vconcat":[
{"width":184.5,"height":136,
"layer":[
{"data":{"name":"bFit"},"mark":{"type":"line","interpolate":"monotone","color":"#c4c4c4","strokeWidth":1.6},
"encoding":{"x":{"field":"v","type":"quantitative","scale":{"domain":[-40,50],"nice":false,"zero":false},"axis":{"values":[-40,-20,0,20,40],"tickCount":20,"format":"d","labelExpr":"replace(datum.label, '\u2212', '-')","title":"Voltage (mV)","labelOverlap":false}},"y":{"field":"tau","type":"quantitative","scale":{"domain":[0,50],"nice":false},"axis":{"values":[0,10,20,30,40,50],"tickCount":20,"format":"d","title":"Time Constant (ms)","labelOverlap":false}}}},
{"data":{"name":"bPts"},"mark":{"type":"rule","strokeWidth":1,"color":"black"},"encoding":{"x":{"field":"v","type":"quantitative"},"y":{"field":"lo","type":"quantitative"},"y2":{"field":"hi"}}},
{"data":{"name":"bPts"},"mark":{"type":"tick","orient":"horizontal","size":5,"thickness":1,"color":"black"},"encoding":{"x":{"field":"v","type":"quantitative"},"y":{"field":"lo","type":"quantitative"}}},
{"data":{"name":"bPts"},"mark":{"type":"tick","orient":"horizontal","size":5,"thickness":1,"color":"black"},"encoding":{"x":{"field":"v","type":"quantitative"},"y":{"field":"hi","type":"quantitative"}}},
{"data":{"name":"bPts"},"mark":{"type":"point","shape":"diamond","filled":true,"size":40,"color":"black","opacity":1},"encoding":{"x":{"field":"v","type":"quantitative"},"y":{"field":"tau","type":"quantitative"}}},
{"data":{"name":"bLeg"},"mark":{"type":"rule","color":"#c4c4c4","strokeWidth":1.6},"encoding":{"x":{"field":"v","type":"quantitative"},"x2":{"field":"v2"},"y":{"field":"tau","type":"quantitative"}}},
{"data":{"name":"bTxt"},"transform":[{"filter":"datum.k == 'I'"}],"mark":{"type":"text","fontSize":9,"fontStyle":"italic","align":"left","baseline":"middle","color":"black"},"encoding":{"x":{"field":"v","type":"quantitative"},"y":{"field":"tau","type":"quantitative"},"text":{"field":"txt"}}},
{"data":{"name":"bTxt"},"transform":[{"filter":"datum.k == 'N'"}],"mark":{"type":"text","fontSize":8.5,"align":"left","baseline":"middle","color":"black"},"encoding":{"x":{"field":"v","type":"quantitative"},"y":{"field":"tau","type":"quantitative"},"text":{"field":"txt"}}},
{"data":{"name":"bTxt"},"transform":[{"filter":"datum.k == 'S'"}],"mark":{"type":"text","fontSize":5.5,"align":"left","baseline":"middle","color":"black"},"encoding":{"x":{"field":"v","type":"quantitative"},"y":{"field":"tau","type":"quantitative"},"text":{"field":"txt"}}},
{"data":{"name":"bTxt"},"transform":[{"filter":"datum.k == 'L'"}],"mark":{"type":"text","fontSize":12,"fontStyle":"italic","align":"center","baseline":"middle","color":"black"},"encoding":{"x":{"field":"v","type":"quantitative"},"y":{"field":"tau","type":"quantitative"},"text":{"field":"txt"}}},
{"data":{"name":"bTxt"},"transform":[{"filter":"datum.k == 'T'"}],"mark":{"type":"text","fontSize":8.7,"fontWeight":"bold","align":"center","baseline":"middle","color":"black"},"encoding":{"x":{"field":"v","type":"quantitative"},"y":{"field":"tau","type":"quantitative"},"text":{"field":"txt"}}}
]},
{"width":207.5,"height":168.6,
"layer":[
{"data":{"name":"eFit"},"mark":{"type":"line","interpolate":"monotone","color":"#8c8c8c","strokeWidth":2},
"encoding":{"x":{"field":"v","type":"quantitative","scale":{"domain":[-110,56],"nice":false,"zero":false},"axis":{"values":[-110,-90,-70,-50,-30,-10,10,30,50],"tickCount":20,"format":"d","labelExpr":"replace(datum.label, '\u2212', '-')","labelFontSize":9.5,"title":"Voltage (mV)","domainWidth":1.5,"labelOverlap":false}},"y":{"field":"r","type":"quantitative","scale":{"domain":[0,1.1],"nice":false},"axis":{"values":[0.2,0.4,0.6,0.8,1],"tickCount":20,"format":"~g","labelExpr":"datum.value == 0.4 ? '' : datum.label","offset":-137.5,"title":"I/Imax","domainWidth":1.5,"labelOverlap":false}},"detail":{"field":"k","type":"nominal"}}},
{"data":{"name":"ePts"},"transform":[{"filter":"datum.k == 'in'"}],"mark":{"type":"point","shape":"triangle-up","filled":true,"size":30,"color":"black","opacity":1},"encoding":{"x":{"field":"v","type":"quantitative"},"y":{"field":"r","type":"quantitative"}}},
{"data":{"name":"ePts"},"transform":[{"filter":"datum.k == 'ac'"}],"mark":{"type":"point","shape":"diamond","filled":true,"size":32,"color":"black","opacity":1},"encoding":{"x":{"field":"v","type":"quantitative"},"y":{"field":"r","type":"quantitative"}}},
{"data":{"name":"eTxt"},"transform":[{"filter":"datum.k == 'M'"}],"mark":{"type":"text","fontSize":7,"fontWeight":"bold","align":"left","baseline":"middle","color":"black"},"encoding":{"x":{"field":"v","type":"quantitative"},"y":{"field":"r","type":"quantitative"},"text":{"field":"txt"}}},
{"data":{"name":"eTxt"},"transform":[{"filter":"datum.k == 'S'"}],"mark":{"type":"text","fontSize":4.5,"fontWeight":"bold","align":"left","baseline":"middle","color":"black"},"encoding":{"x":{"field":"v","type":"quantitative"},"y":{"field":"r","type":"quantitative"},"text":{"field":"txt"}}},
{"data":{"name":"eTxt"},"transform":[{"filter":"datum.k == 'L'"}],"mark":{"type":"text","fontSize":12,"fontStyle":"italic","align":"center","baseline":"middle","color":"black"},"encoding":{"x":{"field":"v","type":"quantitative"},"y":{"field":"r","type":"quantitative"},"text":{"field":"txt"}}}
]},
{"width":186,"height":137.7,
"layer":[
{"data":{"name":"gFit"},"mark":{"type":"line","interpolate":"monotone","color":"#c4c4c4","strokeWidth":1.6},
"encoding":{"x":{"field":"v","type":"quantitative","scale":{"domain":[-130,-30],"nice":false,"zero":false},"axis":{"values":[-130,-110,-90,-70,-50,-30],"tickCount":20,"format":"d","labelExpr":"replace(datum.label, '\u2212', '-')","title":"Voltage (mV)","labelOverlap":false}},"y":{"field":"tau","type":"quantitative","scale":{"domain":[0,12],"nice":false},"axis":{"values":[0,2,4,6,8,10,12],"tickCount":20,"format":"d","title":"Time Constant (ms)","labelOverlap":false}}}},
{"data":{"name":"gPts"},"mark":{"type":"rule","strokeWidth":1,"color":"#444444"},"encoding":{"x":{"field":"v","type":"quantitative"},"y":{"field":"lo","type":"quantitative"},"y2":{"field":"hi"}}},
{"data":{"name":"gPts"},"mark":{"type":"tick","orient":"horizontal","size":5,"thickness":1,"color":"#444444"},"encoding":{"x":{"field":"v","type":"quantitative"},"y":{"field":"lo","type":"quantitative"}}},
{"data":{"name":"gPts"},"mark":{"type":"tick","orient":"horizontal","size":5,"thickness":1,"color":"#444444"},"encoding":{"x":{"field":"v","type":"quantitative"},"y":{"field":"hi","type":"quantitative"}}},
{"data":{"name":"gPts"},"mark":{"type":"point","shape":"diamond","filled":true,"size":35,"color":"black","opacity":1},"encoding":{"x":{"field":"v","type":"quantitative"},"y":{"field":"tau","type":"quantitative"}}},
{"data":{"name":"gLeg"},"mark":{"type":"rule","color":"#c4c4c4","strokeWidth":1.6},"encoding":{"x":{"field":"v","type":"quantitative"},"x2":{"field":"v2"},"y":{"field":"tau","type":"quantitative"}}},
{"data":{"name":"gTxt"},"transform":[{"filter":"datum.k == 'I'"}],"mark":{"type":"text","fontSize":9,"fontStyle":"italic","align":"left","baseline":"middle","color":"black"},"encoding":{"x":{"field":"v","type":"quantitative"},"y":{"field":"tau","type":"quantitative"},"text":{"field":"txt"}}},
{"data":{"name":"gTxt"},"transform":[{"filter":"datum.k == 'N'"}],"mark":{"type":"text","fontSize":8.5,"align":"left","baseline":"middle","color":"black"},"encoding":{"x":{"field":"v","type":"quantitative"},"y":{"field":"tau","type":"quantitative"},"text":{"field":"txt"}}},
{"data":{"name":"gTxt"},"transform":[{"filter":"datum.k == 'S'"}],"mark":{"type":"text","fontSize":5.5,"align":"left","baseline":"middle","color":"black"},"encoding":{"x":{"field":"v","type":"quantitative"},"y":{"field":"tau","type":"quantitative"},"text":{"field":"txt"}}},
{"data":{"name":"gTxt"},"transform":[{"filter":"datum.k == 'L'"}],"mark":{"type":"text","fontSize":12,"fontStyle":"italic","align":"center","baseline":"middle","color":"black"},"encoding":{"x":{"field":"v","type":"quantitative"},"y":{"field":"tau","type":"quantitative"},"text":{"field":"txt"}}},
{"data":{"name":"gTxt"},"transform":[{"filter":"datum.k == 'T'"}],"mark":{"type":"text","fontSize":8.7,"fontWeight":"bold","align":"center","baseline":"middle","color":"black"},"encoding":{"x":{"field":"v","type":"quantitative"},"y":{"field":"tau","type":"quantitative"},"text":{"field":"txt"}}}
]}
],"spacing":53.8,"bounds":"flush","center":true}
],
"spacing":28,
"bounds":"flush"
}
